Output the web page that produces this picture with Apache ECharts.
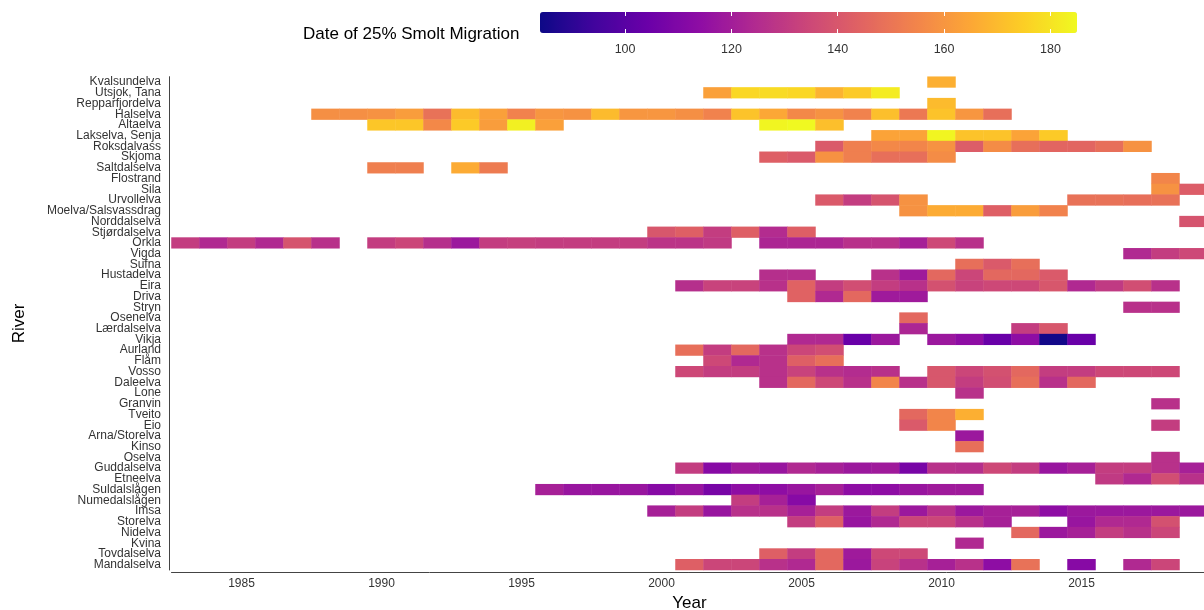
<!DOCTYPE html>
<html>
<head>
<meta charset="utf-8">
<script src="https://cdn.jsdelivr.net/npm/echarts@6/dist/echarts.min.js"></script>
<style>
  html, body { margin: 0; padding: 0; background: #fff; }
  #chart { width: 1204px; height: 610px; }
</style>
</head>
<body>
<div id="chart"></div>
<script>
const FONT = '"Liberation Sans", Arial, sans-serif';

const years = ['1983', '1984', '1985', '1986', '1987', '1988', '1989', '1990', '1991', '1992',
  '1993', '1994', '1995', '1996', '1997', '1998', '1999', '2000', '2001', '2002', '2003', '2004',
  '2005', '2006', '2007', '2008', '2009', '2010', '2011', '2012', '2013', '2014', '2015', '2016',
  '2017', '2018', '2019'];
const yearTicks = ['1985', '1990', '1995', '2000', '2005', '2010', '2015'];

const rivers = ['Kvalsundelva', 'Utsjok, Tana', 'Repparfjordelva', 'Halselva', 'Altaelva',
  'Lakselva, Senja', 'Roksdalvass', 'Skjoma', 'Saltdalselva', 'Flostrand', 'Sila', 'Urvollelva',
  'Moelva/Salsvassdrag', 'Norddalselva', 'Stjørdalselva', 'Orkla', 'Vigda', 'Sufna', 'Hustadelva',
  'Eira', 'Driva', 'Stryn', 'Osenelva', 'Lærdalselva', 'Vikja', 'Aurland', 'Flåm', 'Vosso',
  'Daleelva', 'Lone', 'Granvin', 'Tveito', 'Eio', 'Arna/Storelva', 'Kinso', 'Oselva',
  'Guddalselva', 'Etneelva', 'Suldalslågen', 'Numedalslågen', 'Imsa', 'Storelva', 'Nidelva',
  'Kvina', 'Tovdalselva', 'Mandalselva'];

// colour legend
const legendMin = 84;
const legendMax = 185;
const legendTicks = [100, 120, 140, 160, 180];
const plasma = ['#0d0887', '#41049d', '#6a00a8', '#8f0da4', '#b12a90', '#cc4778',
  '#e16462', '#f2844b', '#fca636', '#fcce25', '#f0f921'];

// day of year of 25% smolt migration, one value per year from `from` (null = no data)
const kvalsundelva = { from: 2010, doy: [167] };
const utsjokTana = { from: 2002, doy: [163, 177, 178, 177, 168, 174, 182] };
const repparfjordelva = { from: 2010, doy: [170] };
const halselva = { from: 1988, doy: [158, 158, 159, 162, 149, 170, 163, 154, 160, 159, 170, 160,
  160, 158, 154, 172, 165, 156, 159, 154, 171, 151, 172, 160, 148] };
const altaelva = { from: 1990, doy: [173, 173, 156, 174, 162, 183, 163,
  null, null, null, null, null, null, null, 184, 185, 171] };
const lakselvaSenja = { from: 2008, doy: [164, 164, 184, 172, 172, 164, 174] };
const roksdalvass = { from: 2006, doy: [141, 153, 156, 155, 159, 142, 157, 148, 145, 145, 148, 159] };
const skjoma = { from: 2004, doy: [143, 141, 159, 153, 148, 148, 157] };
const saltdalselva = { from: 1990, doy: [153, 153, null, 166, 152] };
const flostrand = { from: 2018, doy: [155] };
const sila = { from: 2018, doy: [159, 142] };
const urvollelva = { from: 2006, doy: [141, 131, 139, 159, null, null, null, null, null, 149, 149, 148, 149] };
const moelva = { from: 2009, doy: [159, 166, 166, 143, 162, 154] };
const norddalselva = { from: 2019, doy: [139] };
const stjordalselva = { from: 2000, doy: [140, 143, 131, 143, 125, 143] };
const orkla = { from: 1983, doy: [131, 124, 131, 124, 139, 127, null, 131, 134, 126, 118, 131,
  132, 131, 131, 131, 131, 128, 128, 130, null, 123, 123, 123, 127, 127, 121, 135, 127] };
const vigda = { from: 2017, doy: [124, 131, 135] };
const sufna = { from: 2011, doy: [148, 141, 148] };
const hustadelva = { from: 2004, doy: [126, 126, null, null, 127, 119, 146, 134, 146, 146, 141] };
const eira = { from: 2001, doy: [126, 133, 133, 127, 144, 131, 137, 131, 127, 138, 133, 135,
  135, 140, 124, 130, 137, 127] };
const driva = { from: 2005, doy: [144, 124, 146, 119, 119] };
const stryn = { from: 2017, doy: [127, 127] };
const osenelva = { from: 2009, doy: [146] };
const laerdalselva = { from: 2009, doy: [123, null, null, null, 131, 140] };
const vikja = { from: 2005, doy: [124, 124, 104, 118, null, 118, 114, 104, 114, 85, 104] };
const aurland = { from: 2001, doy: [148, 131, 146, 127, 134, 137] };
const flam = { from: 2002, doy: [135, 124, 127, 143, 148] };
const vosso = { from: 2001, doy: [135, 131, 131, 127, 133, 127, 125, 127, null, 140, 134, 138,
  146, 131, 131, 135, 135, 135] };
const daleelva = { from: 2004, doy: [127, 146, 135, 127, 155, 127, 140, 131, 137, 148, 127, 146] };
const lone = { from: 2011, doy: [127] };
const granvin = { from: 2018, doy: [127] };
const tveito = { from: 2009, doy: [146, 155, 167] };
const eio = { from: 2009, doy: [141, 155, null, null, null, null, null, null, null, 131] };
const arnaStorelva = { from: 2011, doy: [118] };
const kinso = { from: 2011, doy: [148] };
const oselva = { from: 2018, doy: [127] };
const guddalselva = { from: 2001, doy: [131, 112, 119, 117, 124, 121, 118, 119, 108, 127, 126,
  135, 131, 117, 121, 131, 131, 127, 121] };
const etneelva = { from: 2016, doy: [130, 124, 137, 127] };
const suldalslagen = { from: 1996, doy: [121, 117, 117, 117, 112, 117, 108, 114, 114, 117, 121,
  114, 114, 117, 119, 119] };
const numedalslagen = { from: 2003, doy: [131, 121, 112] };
const imsa = { from: 2000, doy: [121, 131, 117, 127, 127, 121, 131, 118, 131, 118, 127, 118, 121,
  121, 114, 118, 118, 118, 118, 118] };
const storelva = { from: 2005, doy: [131, 143, 117, 124, 134, 134, 127, 121, null, null, 117, 124, 124, 138] };
const nidelva = { from: 2013, doy: [146, 118, 121, 131, 127, 134] };
const kvina = { from: 2011, doy: [124] };
const tovdalselva = { from: 2004, doy: [143, 131, 146, 119, 135, 135] };
const mandalselva = { from: 2001, doy: [143, 134, 134, 127, 124, 146, 118, 133, 127, 121, 127,
  114, 149, null, 112, null, 124, 134] };

// same order as `rivers`
const riverSeries = [kvalsundelva, utsjokTana, repparfjordelva, halselva, altaelva, lakselvaSenja,
  roksdalvass, skjoma, saltdalselva, flostrand, sila, urvollelva, moelva, norddalselva,
  stjordalselva, orkla, vigda, sufna, hustadelva, eira, driva, stryn, osenelva, laerdalselva,
  vikja, aurland, flam, vosso, daleelva, lone, granvin, tveito, eio, arnaStorelva, kinso, oselva,
  guddalselva, etneelva, suldalslagen, numedalslagen, imsa, storelva, nidelva, kvina,
  tovdalselva, mandalselva];

const cells = [];
riverSeries.forEach((r, i) => {
  r.doy.forEach((v, k) => {
    if (v != null) cells.push([String(r.from + k), rivers[i], v]);
  });
});

const axisGrey = '#444';
const textGrey = '#333';
const isTick = (idx, val) => yearTicks.includes(String(val));

const chart = echarts.init(document.getElementById('chart'), null, { renderer: 'canvas' });
chart.setOption({
  animation: false,
  backgroundColor: '#fff',
  textStyle: { fontFamily: FONT },
  title: {
    text: 'Date of 25% Smolt Migration',
    left: 303, top: 26, padding: 0,
    textStyle: { fontFamily: FONT, fontSize: 17, fontWeight: 'normal', color: '#000' }
  },
  grid: [
    { left: 171.5, top: 76.7, width: 1036, height: 493.3, outerBoundsMode: 'none' },
    { left: 540, top: 12, width: 537, height: 21, outerBoundsMode: 'none' }
  ],
  xAxis: [
    {
      type: 'category', data: years, gridIndex: 0, position: 'bottom', offset: 2,
      name: 'Year', nameLocation: 'middle', nameGap: 22,
      nameTextStyle: { fontFamily: FONT, fontSize: 17, color: '#000' },
      axisLine: { lineStyle: { color: axisGrey, width: 1 } },
      axisTick: { interval: isTick, alignWithLabel: true, length: 4, lineStyle: { color: axisGrey } },
      axisLabel: { interval: isTick, color: textGrey, fontSize: 12, margin: 6 },
      splitLine: { show: false }
    },
    {
      type: 'value', gridIndex: 1, min: legendMin, max: legendMax, position: 'bottom', z: 10,
      axisLine: { show: false },
      axisTick: { inside: true, length: 4, customValues: legendTicks, lineStyle: { color: '#fff', width: 1 } },
      axisLabel: { customValues: legendTicks, color: textGrey, fontSize: 12.5, margin: 10 },
      splitLine: { show: false }
    },
    {
      type: 'value', gridIndex: 1, min: legendMin, max: legendMax, position: 'top', z: 10,
      axisLine: { show: false },
      axisTick: { inside: true, length: 4, customValues: legendTicks, lineStyle: { color: '#fff', width: 1 } },
      axisLabel: { show: false },
      splitLine: { show: false }
    }
  ],
  yAxis: [
    {
      type: 'category', data: rivers, inverse: true, gridIndex: 0, offset: 2.5,
      name: 'River', nameLocation: 'middle', nameGap: 141, nameRotate: 90,
      nameTextStyle: { fontFamily: FONT, fontSize: 17, color: '#000' },
      axisLine: { lineStyle: { color: axisGrey, width: 1 } },
      axisTick: { alignWithLabel: true, length: 3, lineStyle: { color: axisGrey } },
      axisLabel: { interval: 0, color: textGrey, fontSize: 12, margin: 8 },
      splitLine: { show: false }
    },
    {
      type: 'value', gridIndex: 1, min: 0, max: 1, show: false
    }
  ],
  visualMap: {
    type: 'continuous',
    seriesIndex: 0,
    dimension: 2,
    min: legendMin, max: legendMax,
    orient: 'horizontal',
    left: 540, top: 12, padding: 0,
    itemWidth: 21, itemHeight: 537,
    calculable: false,
    text: null,
    showLabel: false,
    inRange: { color: plasma }
  },
  series: [
    {
      type: 'heatmap',
      xAxisIndex: 0, yAxisIndex: 0,
      data: cells,
      progressive: 0,
      itemStyle: { borderWidth: 0 },
      emphasis: { disabled: true }
    }
  ]
});
</script>
</body>
</html>
